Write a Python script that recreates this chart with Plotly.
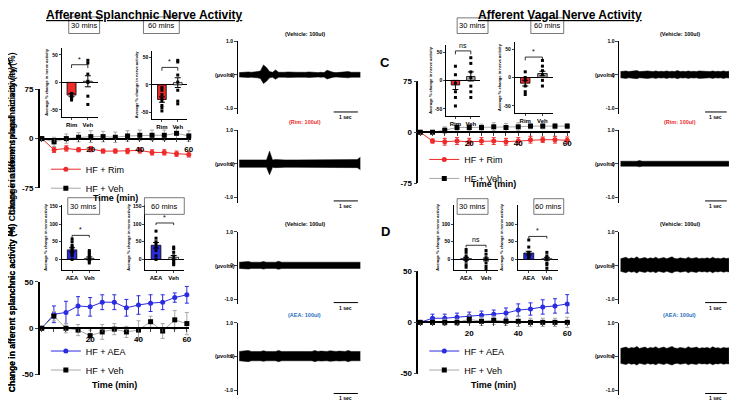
import plotly.graph_objects as go

# the page body has an 8px margin, so the figure is 730x400 placed at (8,8)
W, H = 730, 400
OFF = 8
FONT = "Liberation Sans"

# ---------------- data ----------------
time_min = [0, 5, 10, 15, 20, 25, 30, 35, 40, 45, 50, 55, 60]

A_rim = [0, -17, -15, -17, -16, -19, -19, -19, -18, -21, -21, -23, -24]
A_rim_err = [0, 4, 4, 3, 4, 3, 3, 4, 4, 4, 4, 4, 4]
A_veh = [0, -5, 0, 2, 3, 3, 2, 4, 5, 5, 5, 8, 4]
A_veh_err = [0, 7, 7, 7, 9, 8, 8, 8, 8, 8, 8, 9, 8]

B_aea = [0, 15, 17, 24, 23, 28, 28, 22, 25, 27, 28, 33, 36]
B_aea_err = [0, 9, 12, 10, 10, 8, 8, 9, 10, 9, 8, 5, 9]
B_veh = [0, 13, 0, -2, -8, -4, -1, -4, -2, 7, -3, 9, 5]
B_veh_err = [0, 5, 5, 6, 6, 8, 6, 6, 10, 6, 8, 10, 12]

C_rim = [0, -13, -14, -13, -14, -13, -13, -14, -13, -11, -11, -11, -12]
C_rim_err = [0, 3, 5, 5, 5, 5, 5, 5, 5, 5, 4, 5, 5]
C_veh = [0, 0, 3, 7, 7, 7, 8, 7, 8, 9, 9, 9, 9]
C_veh_err = [0, 2, 5, 5, 5, 5, 6, 6, 6, 4, 4, 4, 4]

D_aea = [0, 4, 4, 5, 6, 7, 8, 9, 12, 13, 15, 16, 18]
D_aea_err = [0, 4, 4, 4, 4, 4, 4, 5, 6, 6, 7, 7, 9]
D_veh = [0, 0, 0, 0, 3, 1, 2, 1, 1, 0, 0, 0, 0]
D_veh_err = [0, 2, 3, 3, 4, 4, 4, 4, 5, 4, 4, 4, 5]

# inset bar data: (mean, sem, points) for [drug, vehicle]
A30 = [(-23, 3, [-20, -22, -25, -27, -28, -30, -32, -24]), (2, 10, [40, 35, 15, 2, 0, -25, -40])]
A60 = [(-27, 5, [-5, -10, -18, -25, -30, -38, -42, -48]), (4, 9, [45, 42, 18, -10, -30, -35, 5])]
B30 = [(27, 6, [0, 10, 15, 20, 25, 30, 35, 40, 50, 58]), (3, 4, [-10, -5, 0, 5, 10, 15, 20, 25])]
B60 = [(40, 8, [0, 10, 25, 35, 45, 50, 60, 80]), (6, 5, [-15, -10, -5, 0, 10, 20, 30, 35])]
C30 = [(-8, 8, [25, 10, -5, -20, -30, -45]), (7, 8, [40, 30, 15, 5, -10, -20, -30])]
C60 = [(-10, 5, [10, 0, -5, -15, -25, -30]), (7, 4, [30, 20, 12, 5, -5, -15])]
D30 = [(2, 4, [28, 20, 10, 5, 0, -5, -15, -22]), (0, 4, [25, 15, 5, 0, -10, -20, -28])]
D60 = [(18, 5, [55, 35, 20, 15, 10, 8, 5]), (2, 4, [20, 10, 5, 0, -10, -15, -25])]

# nerve recording envelopes (uvolts amplitude along 5 s)
rec_t = [i * 0.125 for i in range(41)]
A_veh_amp = [0.07, 0.08, 0.07, 0.09, 0.08, 0.08, 0.1, 0.12, 0.3, 0.22, 0.1, 0.08, 0.15, 0.08, 0.07, 0.08,
             0.09, 0.08, 0.07, 0.08, 0.08, 0.07, 0.08, 0.09, 0.08, 0.08, 0.07, 0.08, 0.07, 0.14, 0.1, 0.08,
             0.07, 0.08, 0.08, 0.09, 0.1, 0.08, 0.07, 0.08, 0.08]
A_rim_amp = [0.12, 0.13, 0.12, 0.12, 0.12, 0.13, 0.12, 0.12, 0.12, 0.12, 0.38, 0.12, 0.13, 0.12, 0.12, 0.12,
             0.12, 0.13, 0.12, 0.12, 0.12, 0.12, 0.12, 0.13, 0.12, 0.12, 0.12, 0.12, 0.13, 0.12, 0.12, 0.12,
             0.12, 0.12, 0.13, 0.12, 0.12, 0.12, 0.12, 0.13, 0.2]
B_veh_amp = [0.1, 0.11, 0.1, 0.12, 0.1, 0.11, 0.1, 0.1, 0.12, 0.1, 0.11, 0.1, 0.1, 0.13, 0.1, 0.1,
             0.11, 0.1, 0.1, 0.12, 0.1, 0.1, 0.11, 0.1, 0.1, 0.12, 0.1, 0.11, 0.1, 0.1, 0.12, 0.1,
             0.1, 0.11, 0.1, 0.1, 0.12, 0.1, 0.1, 0.11, 0.1]
B_aea_amp = [0.15, 0.16, 0.15, 0.18, 0.15, 0.16, 0.15, 0.15, 0.17, 0.15, 0.16, 0.15, 0.15, 0.18, 0.15, 0.15,
             0.16, 0.15, 0.15, 0.17, 0.15, 0.15, 0.16, 0.15, 0.15, 0.18, 0.15, 0.16, 0.15, 0.15, 0.17, 0.15,
             0.15, 0.16, 0.15, 0.15, 0.18, 0.15, 0.15, 0.16, 0.15]
C_veh_amp = [0.1, 0.11, 0.12, 0.1, 0.11, 0.1, 0.13, 0.1, 0.11, 0.1, 0.12, 0.11, 0.1, 0.12, 0.1, 0.11,
             0.1, 0.12, 0.1, 0.11, 0.1, 0.13, 0.1, 0.11, 0.1, 0.12, 0.1, 0.11, 0.1, 0.12, 0.11, 0.1,
             0.11, 0.1, 0.12, 0.1, 0.11, 0.1, 0.12, 0.1, 0.11]
C_rim_amp = [0.08, 0.09, 0.08, 0.08, 0.09, 0.08, 0.08, 0.1, 0.08, 0.08, 0.09, 0.08, 0.08, 0.09, 0.08, 0.08,
             0.08, 0.09, 0.08, 0.08, 0.1, 0.08, 0.08, 0.09, 0.08, 0.08, 0.08, 0.09, 0.08, 0.08, 0.09, 0.08,
             0.08, 0.08, 0.09, 0.08, 0.08, 0.09, 0.08, 0.08, 0.08]
D_veh_amp = [0.2, 0.22, 0.25, 0.2, 0.23, 0.21, 0.26, 0.2, 0.22, 0.24, 0.2, 0.23, 0.21, 0.25, 0.2, 0.22,
             0.24, 0.2, 0.22, 0.26, 0.21, 0.2, 0.23, 0.22, 0.2, 0.25, 0.21, 0.22, 0.24, 0.2, 0.22, 0.21,
             0.23, 0.2, 0.25, 0.21, 0.22, 0.2, 0.23, 0.21, 0.22]
D_aea_amp = [0.24, 0.26, 0.28, 0.24, 0.27, 0.25, 0.3, 0.24, 0.26, 0.28, 0.24, 0.27, 0.25, 0.29, 0.24, 0.26,
             0.28, 0.24, 0.26, 0.3, 0.25, 0.24, 0.27, 0.26, 0.24, 0.29, 0.25, 0.26, 0.28, 0.24, 0.26, 0.25,
             0.27, 0.24, 0.29, 0.25, 0.26, 0.24, 0.27, 0.25, 0.26]

RED, BLUE, GREY = "#EE2A2A", "#2B2BE0", "#A8A8A8"

fig = go.Figure()
layout = {}
annotations = []
shapes = []
n_ax = [0]


def fx(px):
    return (px - OFF) / W


def fy(py):
    return 1 - (py - OFF) / H


def ax_names(n):
    return ("xaxis" if n == 1 else f"xaxis{n}", "yaxis" if n == 1 else f"yaxis{n}",
            "x" if n == 1 else f"x{n}", "y" if n == 1 else f"y{n}")


def new_axes(x0, x1, y0, y1, xopt, yopt):
    n_ax[0] += 1
    n = n_ax[0]
    xa, ya, xr, yr = ax_names(n)
    xd = dict(domain=[fx(x0), fx(x1)], anchor=yr, showgrid=False, zeroline=False)
    yd = dict(domain=[fy(y1), fy(y0)], anchor=xr, showgrid=False, zeroline=False)
    xd.update(xopt)
    yd.update(yopt)
    layout[xa] = xd
    layout[ya] = yd
    return xr, yr


def ann(px, py, text, size=9, color="black", bold=True, angle=0):
    t = f"<b>{text}</b>" if bold else text
    annotations.append(dict(x=fx(px), y=fy(py), xref="paper", yref="paper", text=t, showarrow=False,
                            xanchor="center", yanchor="middle", textangle=angle,
                            font=dict(size=size, color=color, family=FONT)))


tickfont = dict(size=8, family=FONT, color="black")


def main_panel(x0, x1, ytop, ybot, yr_max, ylab, ylab_py, time_py, series, legend_id, legend_xy):
    zero_py = (ytop + ybot) / 2
    xr, yr = new_axes(x0, x1, ytop, ybot,
                      dict(range=[-0.8, 61], tickvals=time_min,
                           ticktext=["" if t not in (20, 40, 60) else f"<b>{t}</b>" for t in time_min],
                           ticks="outside", ticklen=3, showline=True, linecolor="black", linewidth=1.5,
                           anchor="free", position=fy(zero_py), tickfont=tickfont),
                      dict(range=[-yr_max, yr_max], tickvals=[-yr_max, 0, yr_max],
                           ticktext=[f"<b>{-yr_max}</b>", "<b>0</b>", f"<b>{yr_max}</b>"],
                           ticks="outside", ticklen=3, showline=True, linecolor="black", linewidth=1.5,
                           tickfont=tickfont))
    for name, vals, err, col, lcol, sym in series:
        fig.add_trace(go.Scatter(x=time_min, y=vals, name=name, xaxis=xr, yaxis=yr, mode="lines+markers",
                                 line=dict(color=lcol, width=1),
                                 marker=dict(color=col, size=5, symbol=sym),
                                 error_y=dict(type="data", array=err, color=lcol, thickness=1, width=2),
                                 cliponaxis=False, legend=legend_id))
    ann(12, ylab_py, ylab, size=8.5, angle=-90)
    ann((x0 + x1) / 2, time_py, "Time (min)", size=9)
    layout[legend_id] = dict(x=fx(legend_xy[0]), y=fy(legend_xy[1]), xanchor="left", yanchor="top",
                             bgcolor="rgba(0,0,0,0)", font=dict(size=9, family=FONT, color="black"),
                             traceorder="normal", tracegroupgap=0, itemwidth=30)


def inset(x0, x1, ytop, ybot, yrange, ticks, data, labels, colors, sig, sig_y):
    xr, yr = new_axes(x0, x1, ytop, ybot,
                      dict(range=[-0.6, 1.6], tickvals=[0, 1], ticktext=[f"<b>{l}</b>" for l in labels],
                           showline=True, linecolor="black", linewidth=1, ticks="outside", ticklen=2,
                           tickfont=dict(size=6, family=FONT, color="black")),
                      dict(range=yrange, tickvals=ticks, ticktext=[f"<b>{t}</b>" for t in ticks],
                           showline=True, linecolor="black", linewidth=1, ticks="outside", ticklen=2,
                           tickfont=dict(size=5, family=FONT, color="black"), zeroline=True,
                           zerolinecolor="black", zerolinewidth=1,
                           title=dict(text="<b>Average % change in nerve activity</b>", standoff=2,
                                      font=dict(size=4, family=FONT, color="black"))))
    for i, (m, e, pts) in enumerate(data):
        fig.add_trace(go.Bar(x=[i], y=[m], xaxis=xr, yaxis=yr, width=0.55, marker=dict(color=colors[i],
                             line=dict(color="black", width=0.8)),
                             error_y=dict(type="data", array=[e], color="black", thickness=1, width=3),
                             showlegend=False))
        fig.add_trace(go.Scatter(x=[i] * len(pts), y=pts, xaxis=xr, yaxis=yr, mode="markers",
                                 marker=dict(color="black", size=3, symbol="square"), showlegend=False,
                                 cliponaxis=False))
    fig.add_trace(go.Scatter(x=[0, 0, 1, 1], y=[sig_y - 6, sig_y, sig_y, sig_y - 6], xaxis=xr, yaxis=yr,
                             mode="lines", line=dict(color="black", width=0.8), showlegend=False))
    annotations.append(dict(x=0.5, y=sig_y, xref=xr, yref=yr, text=sig, showarrow=False, yanchor="bottom",
                            font=dict(size=7, family=FONT, color="black")))


def box(px0, px1, py0, py1, text):
    shapes.append(dict(type="rect", xref="paper", yref="paper", x0=fx(px0), x1=fx(px1),
                       y0=fy(py1), y1=fy(py0), line=dict(color="#555", width=0.8)))
    ann((px0 + px1) / 2, (py0 + py1) / 2, text, size=7.5, bold=False)


def record(x0, x1, ytop, amp, title, tcolor, uv_px):
    ybot = ytop + 74
    xr, yr = new_axes(x0, x1, ytop, ybot,
                      dict(range=[-0.05, 5.05], visible=False),
                      dict(range=[-1.15, 1.0], tickvals=[-1, 0, 1], ticktext=["<b>-1.0</b>", "<b>0</b>", "<b>1.0</b>"],
                           showline=True, linecolor="black", linewidth=1, ticks="outside", ticklen=3,
                           tickfont=dict(size=5, family=FONT, color="black")))
    fig.add_trace(go.Scatter(x=rec_t, y=amp, xaxis=xr, yaxis=yr, mode="lines",
                             line=dict(color="black", width=0.5), showlegend=False))
    fig.add_trace(go.Scatter(x=rec_t, y=[-a * 0.85 for a in amp], xaxis=xr, yaxis=yr, mode="lines",
                             fill="tonexty", fillcolor="black", line=dict(color="black", width=0.5),
                             showlegend=False))
    fig.add_trace(go.Scatter(x=[3.9, 4.9], y=[-1.1, -1.1], xaxis=xr, yaxis=yr, mode="lines",
                             line=dict(color="black", width=1), showlegend=False, cliponaxis=False))
    annotations.append(dict(x=4.4, y=-1.1, xref=xr, yref=yr, text="<b>1 sec</b>", showarrow=False,
                            yanchor="top", font=dict(size=5, family=FONT, color="black")))
    ann((x0 + x1) / 2 + 5, ytop - 8, title, size=5.5, color=tcolor)
    ann(uv_px, ytop + 74 * (1.0 / 2.15), "(µvolts)", size=5.5)


# ---- panel A ----
main_panel(40, 192, 87, 188, 75, "Change in afferent splanchnic activity (%)", 135, 198,
           [("HF + Rim", A_rim, A_rim_err, RED, RED, "circle"),
            ("HF + Veh", A_veh, A_veh_err, "black", GREY, "square")], "legend", (46, 154))
inset(62, 98, 45, 115, [-62, 62], [-50, 0, 50], A30, ["Rim", "Veh"], [RED, "white"], "*", 32)
inset(153, 188, 48, 117, [-62, 62], [-50, 0, 50], A60, ["Rim", "Veh"], [RED, "white"], "*", 32)
box(69, 100, 13, 30, "30 mins")
box(144, 180, 13, 30, "60 mins")

# ---- panel B ----
main_panel(40, 190, 284, 379, 50, "Change in afferent splanchnic activity (%)", 310, 390,
           [("HF + AEA", B_aea, B_aea_err, BLUE, BLUE, "circle"),
            ("HF + Veh", B_veh, B_veh_err, "black", GREY, "square")], "legend2", (46, 340))
inset(62, 100, 205, 272, [-30, 155], [0, 50, 100, 150], B30, ["AEA", "Veh"], [BLUE, "white"], "*", 68)
inset(146, 185, 205, 272, [-30, 155], [0, 50, 100, 150], B60, ["AEA", "Veh"], [BLUE, "white"], "*", 103)
box(68, 100, 198, 215, "30 mins")
box(145, 185, 198, 215, "60 mins")

# ---- panel C ----
main_panel(420, 572, 79, 183, 75, "Change in afferent vagal  activity (%)", 140, 184,
           [("HF + Rim", C_rim, C_rim_err, RED, RED, "circle"),
            ("HF + Veh", C_veh, C_veh_err, "black", GREY, "square")], "legend3", (426, 144))
inset(448, 482, 42, 114, [-62, 62], [-50, 0, 50], C30, ["Rim", "Veh"], [RED, GREY], "ns", 52)
inset(517, 555, 39, 111, [-62, 62], [-50, 0, 50], C60, ["Rim", "Veh"], [RED, GREY], "*", 36)
box(459, 490, 14, 30, "30 mins")
box(533, 566, 14, 30, "60 mins")

# ---- panel D ----
main_panel(420, 572, 273, 378, 50, "Change in afferent splanchnic activity (%)", 310, 390,
           [("HF + AEA", D_aea, D_aea_err, BLUE, BLUE, "circle"),
            ("HF + Veh", D_veh, D_veh_err, "black", GREY, "square")], "legend4", (426, 340))
inset(456, 500, 205, 272, [-30, 155], [0, 50, 100], D30, ["AEA", "Veh"], [BLUE, "white"], "ns", 40)
inset(520, 560, 205, 272, [-30, 155], [0, 50, 100], D60, ["AEA", "Veh"], [BLUE, "white"], "*", 65)
box(459, 490, 199, 215, "30 mins")
box(536, 566, 199, 215, "60 mins")

# ---- recordings ----
record(239, 363, 38, A_veh_amp, "(Vehicle: 100ul)", "black", 226)
record(239, 363, 129, A_rim_amp, "(Rim: 100ul)", RED, 226)
record(239, 363, 233, B_veh_amp, "(Vehicle: 100ul)", "black", 226)
record(239, 363, 326, B_aea_amp, "(AEA: 100ul)", "#1F6FC0", 226)
record(622, 733, 38, C_veh_amp, "(Vehicle: 100ul)", "black", 607)
record(622, 733, 129, C_rim_amp, "(Rim: 100ul)", RED, 607)
record(622, 733, 233, D_veh_amp, "(Vehicle: 100ul)", "black", 607)
record(622, 733, 326, D_aea_amp, "(AEA: 100ul)", "#1F6FC0", 607)

# ---- titles & letters ----
ann(145, 11, "<u>Afferent Splanchnic Nerve Activity</u>", size=12)
ann(562, 11, "<u>Afferent Vagal Nerve Activity</u>", size=12)
ann(8, 60, "A", size=13)
ann(8, 233, "B", size=13)
ann(387, 60, "C", size=13)
ann(387, 233, "D", size=13)

fig.update_layout(**layout)
fig.update_layout(width=W, height=H, margin=dict(l=0, r=0, t=0, b=0), plot_bgcolor="white",
                  paper_bgcolor="white", annotations=annotations, shapes=shapes, barmode="overlay",
                  font=dict(family=FONT, color="black"), showlegend=True)
fig.write_html("out.html")
